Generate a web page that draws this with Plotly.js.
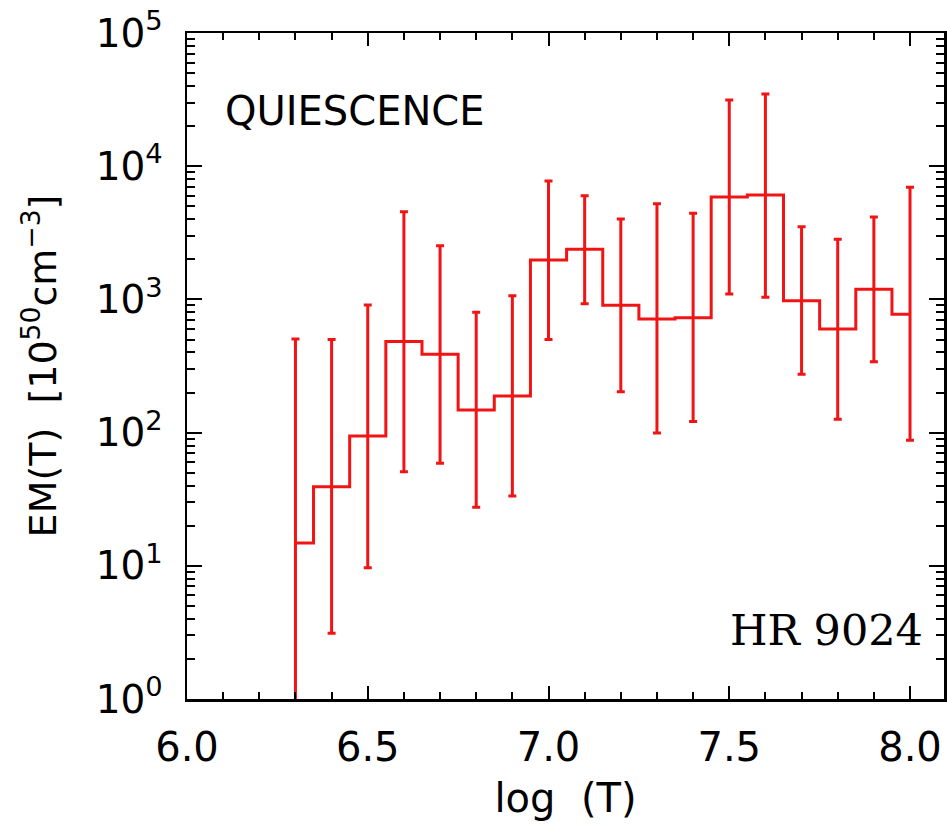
<!DOCTYPE html>
<html>
<head>
<meta charset="utf-8">
<script src="https://cdn.plot.ly/plotly-3.0.1.min.js"></script>
<style>html,body{margin:0;padding:0;background:#fff;}#chart{width:947px;height:828px;}</style>
</head>
<body>
<div id="chart"></div>
<script>
// Data
const logT = [6.3, 6.4, 6.5, 6.6, 6.7, 6.8, 6.9, 7.0, 7.1, 7.2, 7.3, 7.4, 7.5, 7.6, 7.7, 7.8, 7.9, 8.0];
const em = [14.8, 39.3, 94.3, 482, 387, 148, 188, 1977, 2377, 903, 713, 729, 5870, 6080, 977, 600, 1191, 773];
const emUpper = [505, 499, 908, 4550, 2530, 800, 1067, 7740, 6010, 4016, 5230, 4430, 31400, 34800, 3515, 2826, 4155, 6940];
const emLower = [0, 3.11, 9.68, 50.9, 58.8, 27.5, 33.4, 499, 929, 203, 99.3, 121, 1098, 1037, 274, 126, 341, 87.5];

const xTickVals = [6.0, 6.5, 7.0, 7.5, 8.0];
const xTickText = ['6.0', '6.5', '7.0', '7.5', '8.0'];
const yTickVals = [1, 10, 100, 1000, 10000, 100000];
const yExponents = ['0', '1', '2', '3', '4', '5'];
const yTickText = yExponents.map(e => '10<sup>' + e + '</sup>');

const red = 'rgb(240,20,20)';
const errPlus = em.map((v, i) => emUpper[i] - v);
const errMinus = em.map((v, i) => v - emLower[i]);

const yMinor = [];
for (let d = 0; d < 5; d++) for (let k = 2; k <= 9; k++) yMinor.push(k * Math.pow(10, d));

const trace = {
  x: logT, y: em, type: 'scatter', mode: 'lines',
  line: {color: red, width: 3, shape: 'hvh'},
  error_y: {type: 'data', symmetric: false, array: errPlus, arrayminus: errMinus,
            color: red, thickness: 3, width: 4},
  hoverinfo: 'x+y'
};

const fontMain = 'DejaVu Sans, sans-serif';
const layout = {
  width: 947, height: 828,
  margin: {l: 187, r: 3, t: 33, b: 129},
  paper_bgcolor: '#fff', plot_bgcolor: '#fff',
  showlegend: false,
  xaxis: {
    range: [6.0, 8.094], tickmode: 'array', tickvals: xTickVals, ticktext: xTickText,
    ticks: 'inside', ticklen: 13, tickwidth: 2, tickcolor: '#000',
    minor: {dtick: 0.1, tick0: 6.0, ticks: 'inside', ticklen: 7, tickwidth: 2, tickcolor: '#000', showgrid: false},
    showline: true, linecolor: '#000', linewidth: 2.5, mirror: 'ticks',
    showgrid: false, zeroline: false,
    tickfont: {family: fontMain, size: 40, color: '#000'},
    ticklabelstandoff: 11,
    title: {text: 'log  (T)', font: {family: fontMain, size: 40, color: '#000'}, standoff: 16}
  },
  yaxis: {
    type: 'log', range: [0, 5], tickmode: 'array', tickvals: yTickVals, ticktext: yTickText,
    ticks: 'inside', ticklen: 15, tickwidth: 2, tickcolor: '#000',
    minor: {tickmode: 'array', tickvals: yMinor, ticks: 'inside', ticklen: 8, tickwidth: 2, tickcolor: '#000', showgrid: false},
    showline: true, linecolor: '#000', linewidth: 2.5, mirror: 'ticks',
    showgrid: false, zeroline: false,
    tickfont: {family: fontMain, size: 39, color: '#000'},
    ticklabelstandoff: 14,
    title: {text: 'EM(T)  [10<sup>50</sup>cm<sup>\u22123</sup>]', font: {family: fontMain, size: 38, color: '#000'}, standoff: 28}
  },
  annotations: [
    {xref: 'paper', yref: 'paper', x: 0.0476, y: 0.883, xanchor: 'left', yanchor: 'middle',
     text: 'QUIESCENCE', showarrow: false, font: {family: fontMain, size: 40, color: '#000'}},
    {xref: 'paper', yref: 'paper', x: 0.975, y: 0.104, xanchor: 'right', yanchor: 'middle',
     text: 'HR 9024', showarrow: false, font: {family: 'DejaVu Serif, serif', size: 43, color: '#000'}}
  ]
};

Plotly.newPlot('chart', [trace], layout, {displayModeBar: false, staticPlot: true});
</script>
</body>
</html>
